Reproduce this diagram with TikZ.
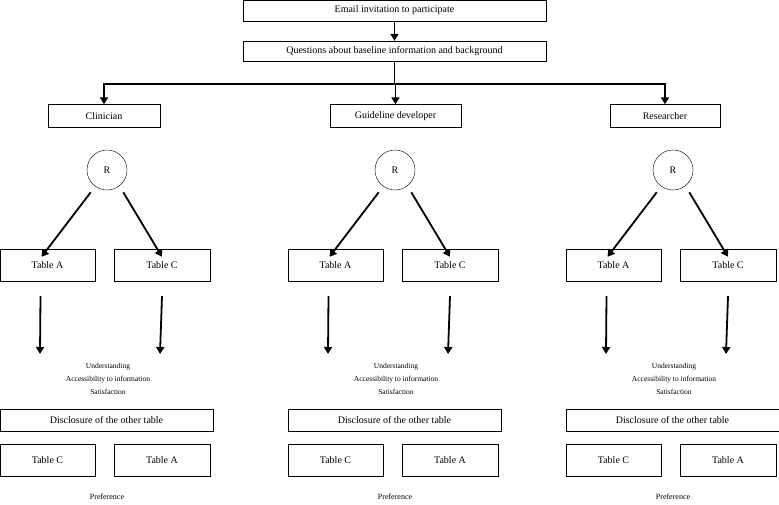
\documentclass[tikz,border=0pt]{standalone}
\usepackage{fontspec}
\setmainfont{Liberation Serif}
\usetikzlibrary{arrows.meta}
\begin{document}
\begin{tikzpicture}[x=1pt,y=-1pt,
box/.style={
% The boxes:
rectangle,
draw=black,
inner sep=0pt,
font=\fontsize{10}{12}\selectfont
},
arm/.style={-{Triangle[length=7pt,width=8pt]},line width=1.8pt}
]
\useasboundingbox (0,0) rectangle (779,505);
\node (email) [box,minimum width=303,minimum height=21] at (394.5,10.5) {Email invitation to participate};
\node (base) [box,minimum width=303,minimum height=20] at (394.5,51) {Questions about baseline information and background};
\coordinate (split) at (394.5,84);
\draw[arm] (email) -- (base);
\draw[line width=1.8pt] (base) -- (split);
\foreach \name/\role/\cx/\w/\ox in {cli/Clinician/104/112/0,gui/Guideline developer/395.5/131/288,res/Researcher/665/110/566}{
\begin{scope}[xshift=\ox]
\node (\name) [box,minimum width=\w,minimum height=23] at (\cx-\ox,116) {\role};
\node (\name r) [circle,draw=black,minimum size=40,font=\fontsize{10}{12}\selectfont] at (107,170) {R};
\node (\name a) [box,minimum width=95,minimum height=32] at (47.5,265) {Table A};
\node (\name c) [box,minimum width=96,minimum height=32] at (162,265) {Table C};
\coordinate (\name ae) at (40,354);
\coordinate (\name ce) at (160,354);
\node (\name q) [align=center,font=\fontsize{7.5}{13}\selectfont] at (108,379) {Understanding\\Accessibility to information\\Satisfaction};
\node (\name d) [box,minimum width=213,minimum height=22] at (106.5,420) {Disclosure of the other table};
\node (\name b) [box,minimum width=95,minimum height=32] at (47.5,460) {Table C};
\node (\name t) [box,minimum width=96,minimum height=32] at (162,460) {Table A};
\node (\name p) [font=\fontsize{8}{10}\selectfont] at (107,497) {Preference};
\end{scope}
\draw[arm] (split) -| (\name);
\draw[arm] (\name r.225) ++(-2,8) -- ([xshift=-6pt,yshift=-8pt]\name a.north);
\draw[arm] (\name r.315) ++(2,8) -- ([yshift=-8pt]\name c.north);
\draw[arm] ([xshift=-7pt,yshift=-15pt]\name a.south) -- (\name ae);
\draw[arm] ([yshift=-15pt]\name c.south) -- (\name ce);
}
\end{tikzpicture}
\end{document}
